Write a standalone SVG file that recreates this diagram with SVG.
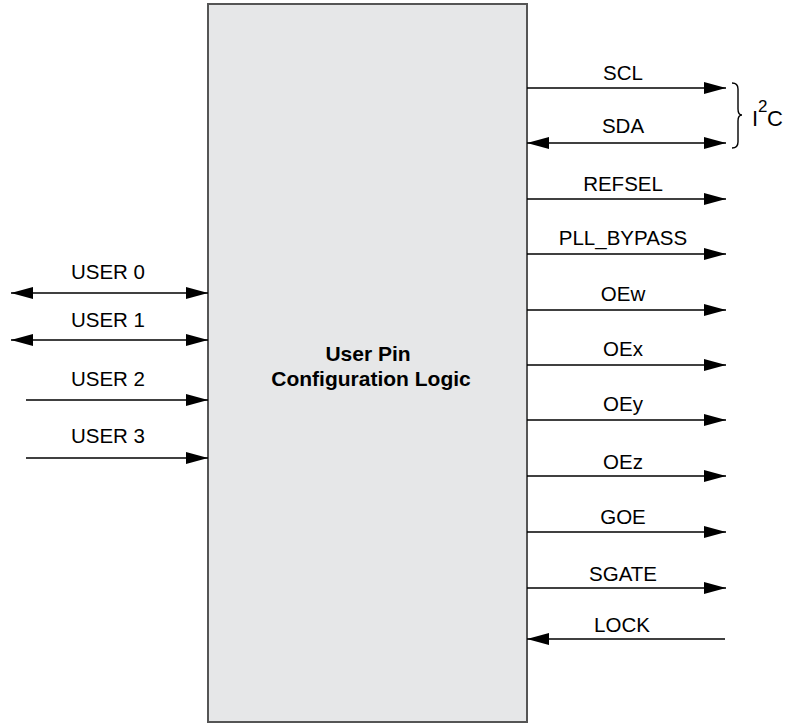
<svg xmlns="http://www.w3.org/2000/svg" width="785" height="725" viewBox="0 0 785 725">
<style>
text{font-family:"Liberation Sans",Arial,sans-serif;font-size:20.5px;fill:#000}
.lbl{text-anchor:middle}
.c{stroke:#000;stroke-width:1.4;fill:none}
.t{font-weight:bold;text-anchor:middle;font-size:21px}
</style>
<defs>
<marker id="ah" viewBox="0 0 22 12" refX="22" refY="6" markerWidth="22" markerHeight="12" markerUnits="userSpaceOnUse" orient="auto-start-reverse">
<path d="M0,0 L22,6 L0,12 Z" fill="#000"/>
</marker>
</defs>
<rect width="785" height="725" fill="#fff"/>
<g id="block">
<rect x="208" y="4" width="319" height="718" fill="#e6e7e8" stroke="#555" stroke-width="2"/>
<text class="t" x="368" y="361">User Pin</text>
<text class="t" x="371" y="386">Configuration Logic</text>
</g>
<g id="connectors">
<line class="c" x1="11" y1="293" x2="208" y2="293" marker-start="url(#ah)" marker-end="url(#ah)"/>
<line class="c" x1="11" y1="340" x2="208" y2="340" marker-start="url(#ah)" marker-end="url(#ah)"/>
<line class="c" x1="26" y1="400" x2="208" y2="400" marker-end="url(#ah)"/>
<line class="c" x1="26" y1="458" x2="208" y2="458" marker-end="url(#ah)"/>
<line class="c" x1="527" y1="88" x2="726" y2="88" marker-end="url(#ah)"/>
<line class="c" x1="527" y1="143" x2="726" y2="143" marker-start="url(#ah)" marker-end="url(#ah)"/>
<line class="c" x1="527" y1="199" x2="726" y2="199" marker-end="url(#ah)"/>
<line class="c" x1="527" y1="254" x2="726" y2="254" marker-end="url(#ah)"/>
<line class="c" x1="527" y1="310" x2="726" y2="310" marker-end="url(#ah)"/>
<line class="c" x1="527" y1="365" x2="726" y2="365" marker-end="url(#ah)"/>
<line class="c" x1="527" y1="420" x2="726" y2="420" marker-end="url(#ah)"/>
<line class="c" x1="527" y1="476" x2="726" y2="476" marker-end="url(#ah)"/>
<line class="c" x1="527" y1="532" x2="726" y2="532" marker-end="url(#ah)"/>
<line class="c" x1="527" y1="588" x2="726" y2="588" marker-end="url(#ah)"/>
<line class="c" x1="725" y1="639" x2="527" y2="639" marker-end="url(#ah)"/>
</g>
<g id="labels">
<text class="lbl" x="108" y="279">USER 0</text>
<text class="lbl" x="108" y="327">USER 1</text>
<text class="lbl" x="108" y="386">USER 2</text>
<text class="lbl" x="108" y="443">USER 3</text>
<text class="lbl" x="623" y="80">SCL</text>
<text class="lbl" x="623" y="133">SDA</text>
<text class="lbl" x="623" y="191">REFSEL</text>
<text class="lbl" x="623" y="245">PLL_BYPASS</text>
<text class="lbl" x="623" y="301">OEw</text>
<text class="lbl" x="623" y="356">OEx</text>
<text class="lbl" x="623" y="411">OEy</text>
<text class="lbl" x="623" y="469">OEz</text>
<text class="lbl" x="623" y="524">GOE</text>
<text class="lbl" x="623" y="581">SGATE</text>
<text class="lbl" x="622" y="632">LOCK</text>
</g>
<g id="i2c">
<path class="c" d="M732,83 Q738,83 738,89 L738,109 Q738,115 742,115 Q738,115 738,121 L738,142 Q738,148 732,148" stroke-width="1.2"/>
<text x="752" y="126" style="font-size:22px">I</text>
<text x="758" y="112" style="font-size:17px">2</text>
<text x="767" y="126" style="font-size:22px">C</text>
</g>
</svg>
